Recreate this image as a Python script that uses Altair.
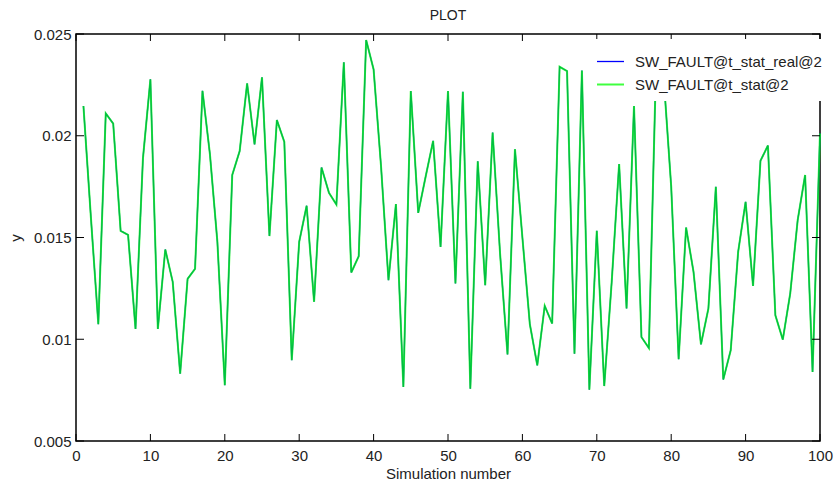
import altair as alt
import pandas as pd

REAL = "SW_FAULT@t_stat_real@2"
STAT = "SW_FAULT@t_stat@2"

sim_number = list(range(1, 101))
values = [
    0.02146, 0.0160, 0.01074, 0.0211, 0.0206, 0.01533, 0.01513, 0.01051, 0.01889, 0.02277,
    0.01051, 0.01441, 0.01282, 0.00831, 0.01297, 0.01346, 0.02221, 0.0191, 0.0148, 0.00774,
    0.01807, 0.01925, 0.02257, 0.01957, 0.02287, 0.01507, 0.02077, 0.0197, 0.00897, 0.01479,
    0.01656, 0.01184, 0.01844, 0.0172, 0.01662, 0.02361, 0.01328, 0.01408, 0.0247, 0.02326,
    0.0185, 0.0129, 0.01664, 0.00766, 0.0222, 0.01621, 0.0180, 0.01975, 0.01454, 0.0222,
    0.01274, 0.02216, 0.00757, 0.01875, 0.01266, 0.02016, 0.0142, 0.00925, 0.01934, 0.0150,
    0.01074, 0.00872, 0.01164, 0.01077, 0.02339, 0.02318, 0.00929, 0.0232, 0.00752, 0.01533,
    0.0077, 0.0128, 0.01861, 0.01151, 0.02146, 0.01011, 0.00957, 0.0240, 0.0228, 0.0175,
    0.00902, 0.01549, 0.01331, 0.00975, 0.01151, 0.01749, 0.00802, 0.00946, 0.0143, 0.01675,
    0.01262, 0.01877, 0.01952, 0.01118, 0.00998, 0.01225, 0.01585, 0.01807, 0.00839, 0.02011,
]
real_values = values
stat_values = values

x_ticks = [0, 10, 20, 30, 40, 50, 60, 70, 80, 90, 100]
y_ticks = [0.005, 0.01, 0.015, 0.02, 0.025]

W, H = 744, 407
FONT = "Liberation Sans"

df = pd.DataFrame({
    "x": sim_number * 2,
    "y": real_values + stat_values,
    "series": [REAL] * len(sim_number) + [STAT] * len(sim_number),
})
xt = pd.DataFrame({"x": x_ticks})
yt = pd.DataFrame({"y": y_ticks})

xscale = alt.Scale(domain=[0, 100], nice=False, zero=False)
yscale = alt.Scale(domain=[0.005, 0.025], nice=False, zero=False)

xaxis = alt.Axis(values=x_ticks, ticks=False, domain=False, grid=False, labelPadding=7,
                 labelFontSize=15, labelFont=FONT, labelColor="#222", title="Simulation number",
                 titleFontSize=15, titleFont=FONT, titleFontWeight="normal", titleColor="#222",
                 titlePadding=3, labelFlush=False)
yaxis = alt.Axis(values=y_ticks, ticks=False, domain=False, grid=False, labelPadding=5,
                 format=".3~f", labelFontSize=15, labelFont=FONT, labelColor="#222", title="y",
                 titleFontSize=15, titleFont=FONT, titleFontWeight="normal", titleColor="#222",
                 titlePadding=10)

legend = alt.Legend(title=None, orient="none", legendX=512, legendY=5, symbolType="stroke",
                    symbolSize=729, labelFontSize=15, labelFont=FONT, labelColor="#222",
                    labelOffset=10, padding=8, fillColor="white", rowPadding=-8, labelLimit=400)

dom = [REAL, STAT]
base = alt.Chart(df).mark_line().encode(
    x=alt.X("x:Q", scale=xscale, axis=xaxis),
    y=alt.Y("y:Q", scale=yscale, axis=yaxis),
    color=alt.Color("series:N", scale=alt.Scale(domain=dom, range=["#0000ff", "#00ff00"]), legend=legend),
    strokeWidth=alt.StrokeWidth("series:N", scale=alt.Scale(domain=dom, range=[1.3, 2.0]), legend=legend),
    opacity=alt.Opacity("series:N", scale=alt.Scale(domain=dom, range=[1.0, 0.75]), legend=legend),
)
line_real = base.transform_filter(alt.datum.series == REAL)
line_stat = base.transform_filter(alt.datum.series == STAT)

tick_style = dict(color="black", strokeWidth=1)
xt_bottom = alt.Chart(xt).mark_rule(**tick_style).encode(
    x=alt.X("x:Q", scale=xscale, axis=xaxis), y=alt.value(H), y2=alt.value(H - 7))
xt_top = alt.Chart(xt).mark_rule(**tick_style).encode(
    x=alt.X("x:Q", scale=xscale, axis=xaxis), y=alt.value(0), y2=alt.value(7))
yt_left = alt.Chart(yt).mark_rule(**tick_style).encode(
    y=alt.Y("y:Q", scale=yscale, axis=yaxis), x=alt.value(0), x2=alt.value(8))
yt_right = alt.Chart(yt).mark_rule(**tick_style).encode(
    y=alt.Y("y:Q", scale=yscale, axis=yaxis), x=alt.value(W), x2=alt.value(W - 8))

chart = alt.layer(line_real, line_stat, xt_bottom, xt_top, yt_left, yt_right).properties(
    width=W, height=H,
    title=alt.TitleParams("PLOT", fontSize=14, font=FONT, fontWeight="normal", color="#222", offset=4),
    autosize=alt.AutoSizeParams(type="none"),
    padding={"left": 76, "top": 34, "right": 15, "bottom": 43},
    background="white",
).configure_view(stroke="black", strokeWidth=1.5)

chart.save("out.html", embed_options={"renderer": "svg", "actions": False})
